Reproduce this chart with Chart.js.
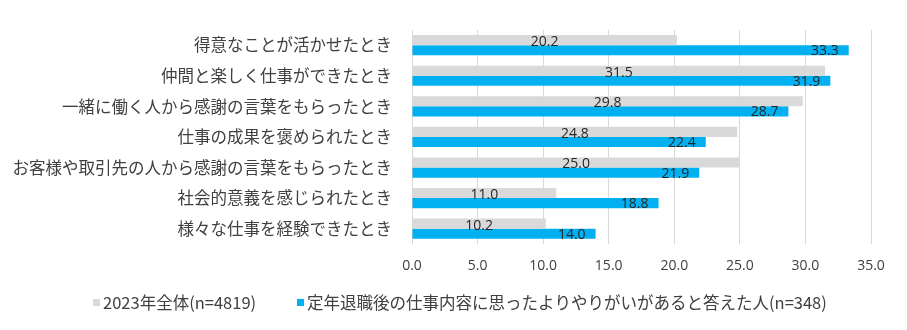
<!DOCTYPE html>
<html>
<head>
<meta charset="utf-8">
<script src="https://cdn.jsdelivr.net/npm/chart.js@4/dist/chart.umd.min.js"></script>
<style>
  html, body { margin: 0; padding: 0; background: #fff; }
  #wrap { width: 907px; height: 330px; position: relative; }
</style>
</head>
<body>
<div id="wrap"><canvas id="c" width="907" height="330"></canvas></div>
<script>
const categories = [
  "得意なことが活かせたとき",
  "仲間と楽しく仕事ができたとき",
  "一緒に働く人から感謝の言葉をもらったとき",
  "仕事の成果を褒められたとき",
  "お客様や取引先の人から感謝の言葉をもらったとき",
  "社会的意義を感じられたとき",
  "様々な仕事を経験できたとき"
];
const seriesNames = [
  "2023年全体(n=4819)",
  "定年退職後の仕事内容に思ったよりやりがいがあると答えた人(n=348)"
];
const values2023 = [20.2, 31.5, 29.8, 24.8, 25.0, 11.0, 10.2];
const valuesRetired = [33.3, 31.9, 28.7, 22.4, 21.9, 18.8, 14.0];
const xTicks = [0, 5, 10, 15, 20, 25, 30, 35];

const jpFont = '"Noto Sans CJK JP", "Noto Sans", sans-serif';
const numFont = '"Open Sans", "Noto Sans", sans-serif';

const labelPlugin = {
  id: 'barLabels',
  afterDatasetsDraw(chart) {
    const ctx = chart.ctx;
    ctx.save();
    ctx.font = '14px ' + numFont;
    ctx.fillStyle = '#262626';
    ctx.textBaseline = 'middle';
    chart.data.datasets.forEach((ds, di) => {
      const meta = chart.getDatasetMeta(di);
      meta.data.forEach((el, i) => {
        const v = ds.data[i];
        const txt = v.toFixed(1);
        if (di === 0) {
          ctx.textAlign = 'center';
          ctx.fillText(txt, (el.x + el.base) / 2, el.y + 2);
        } else {
          ctx.textAlign = 'right';
          ctx.fillText(txt, el.x - 10, el.y + 1);
        }
      });
    });
    ctx.restore();
  }
};

// legend drawn from the datasets (names and colours)
const legendPlugin = {
  id: 'customLegend',
  afterDraw(chart) {
    const ctx = chart.ctx;
    ctx.save();
    ctx.font = '16.5px ' + jpFont;
    ctx.textBaseline = 'middle';
    ctx.textAlign = 'left';
    const y = 303;
    const starts = [93, 297];
    chart.data.datasets.forEach((ds, di) => {
      const x = starts[di];
      ctx.fillStyle = ds.backgroundColor;
      ctx.fillRect(x, y - 4, 7, 7);
      ctx.fillStyle = '#404040';
      ctx.fillText(ds.label, x + 10, y);
    });
    ctx.restore();
  }
};

new Chart(document.getElementById('c'), {
  type: 'bar',
  data: {
    labels: categories,
    datasets: [
      { label: seriesNames[0], data: values2023, backgroundColor: '#D9D9D9',
        categoryPercentage: 0.66, barPercentage: 1.0 },
      { label: seriesNames[1], data: valuesRetired, backgroundColor: '#00B0F0',
        categoryPercentage: 0.66, barPercentage: 1.0 }
    ]
  },
  options: {
    indexAxis: 'y',
    responsive: false,
    animation: false,
    layout: { padding: { left: 0, right: 36, top: 21, bottom: 46 } },
    scales: {
      x: {
        min: 0, max: 35,
        afterBuildTicks(axis) { axis.ticks = xTicks.map(v => ({ value: v })); },
        afterFit(axis) { axis.height = 40; },
        border: { display: false },
        grid: { color: '#D9D9D9', lineWidth: 1, drawTicks: false },
        ticks: {
          padding: 14,
          color: '#404040',
          font: { family: numFont, size: 14 },
          callback: v => Number(v).toFixed(1)
        }
      },
      y: {
        afterFit(axis) { axis.width = 412; },
        border: { display: false },
        grid: { display: false, drawTicks: false },
        ticks: {
          padding: 20,
          color: '#404040',
          font: { family: jpFont, size: 16.5 }
        }
      }
    },
    plugins: {
      legend: { display: false },
      tooltip: { enabled: false }
    }
  },
  plugins: [labelPlugin, legendPlugin]
});
</script>
</body>
</html>
